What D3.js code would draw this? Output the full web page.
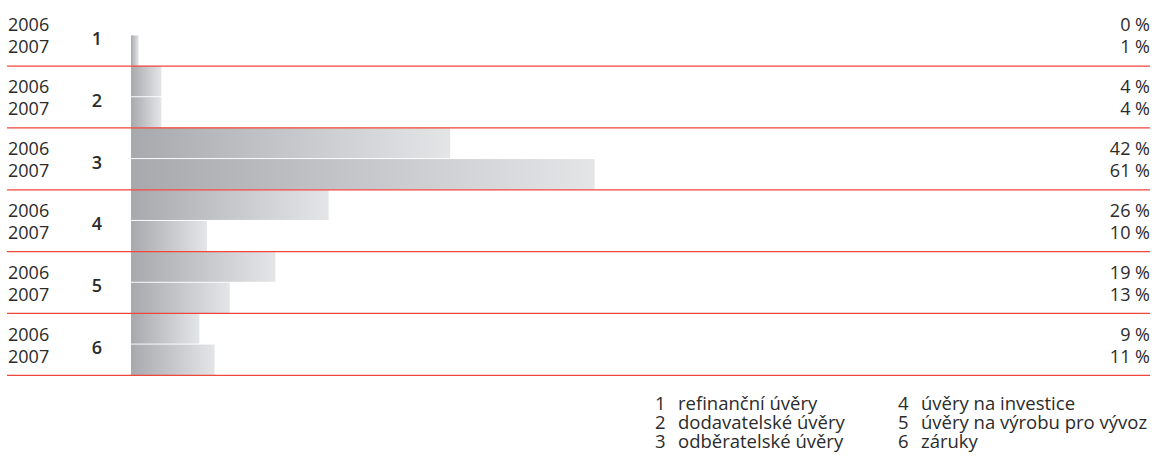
<!DOCTYPE html>
<html>
<head>
<meta charset="utf-8">
<script src="https://cdn.jsdelivr.net/npm/d3@7"></script>
<style>
  body { margin: 0; background: #fff; }
  text { font-family: "Open Sans", "Noto Sans", sans-serif; fill: #2b2b2b; }
</style>
</head>
<body>
<div id="chart"></div>
<script>
let width = 1154,
    height = 461;

const groups = ['1', '2', '3', '4', '5', '6'];
const years = ['2006', '2007'];
const share2006 = [0, 4, 42, 26, 19, 9]; // %
const share2007 = [1, 4, 61, 10, 13, 11]; // %
const legendLabels = ['refinanční úvěry', 'dodavatelské úvěry', 'odběratelské úvěry',
                      'úvěry na investice', 'úvěry na výrobu pro vývoz', 'záruky'];

let rows = [];
groups.forEach(function(g, i){
  rows.push({group: g, year: years[0], value: share2006[i]});
  rows.push({group: g, year: years[1], value: share2007[i]});
});

let svg = d3.select('#chart')
  .append('svg')
  .attr('width', width)
  .attr('height', height);

let grad = svg.append('defs').append('linearGradient')
  .attr('id', 'barGrad')
  .attr('x1', '0%').attr('x2', '100%')
  .attr('y1', '0%').attr('y2', '0%');
grad.append('stop').attr('offset', '0%').attr('stop-color', '#a8a9ad');
grad.append('stop').attr('offset', '100%').attr('stop-color', '#e4e5e7');

let x = d3.scaleLinear().domain([0, 100]).range([131, 891]);

let y = d3.scaleBand().domain(groups).range([4, 375]);

let yInner = d3.scaleBand().domain(years).range([0, y.bandwidth()]).paddingInner(0.03);

// bars
svg.selectAll('.bar')
  .data(rows.filter(function(d){ return d.value > 0; }))
  .enter()
  .append('rect')
  .attr('class', 'bar')
  .attr('x', x(0))
  .attr('y', function(d){ return y(d.group) + yInner(d.year); })
  .attr('width', function(d){ return x(d.value) - x(0); })
  .attr('height', yInner.bandwidth())
  .attr('fill', 'url(#barGrad)');

// red separators
svg.selectAll('.sep')
  .data(groups)
  .enter()
  .append('line')
  .attr('x1', 7).attr('x2', 1150)
  .attr('y1', function(d){ return y(d) + y.bandwidth() + 0.3; })
  .attr('y2', function(d){ return y(d) + y.bandwidth() + 0.3; })
  .attr('stroke', '#f2453b')
  .attr('stroke-width', 1.3);

// year labels and values
svg.selectAll('.year')
  .data(rows)
  .enter()
  .append('text')
  .attr('x', 8)
  .attr('y', function(d){ return y(d.group) + y.bandwidth() / 2 + (d.year === '2006' ? -3.5 : 18.5); })
  .style('font-size', '18px')
  .text(function(d){ return d.year; });

svg.selectAll('.val')
  .data(rows)
  .enter()
  .append('text')
  .attr('x', 1150)
  .attr('text-anchor', 'end')
  .attr('y', function(d){ return y(d.group) + y.bandwidth() / 2 + (d.year === '2006' ? -3.5 : 18.5); })
  .style('font-size', '18px')
  .text(function(d){ return d.value + ' %'; });

svg.selectAll('.grp')
  .data(groups)
  .enter()
  .append('text')
  .attr('x', 97)
  .attr('text-anchor', 'middle')
  .attr('y', function(d){ return y(d) + y.bandwidth() / 2 + 10; })
  .style('font-size', '18px')
  .style('font-weight', 600)
  .text(function(d){ return d; });

// legend
let legend = svg.selectAll('.leg')
  .data(legendLabels)
  .enter()
  .append('g')
  .attr('transform', function(d, i){
    return 'translate(' + (i < 3 ? 655 : 898) + ',' + (410 + (i % 3) * 19) + ')';
  });
legend.append('text')
  .style('font-size', '18.5px')
  .text(function(d, i){ return groups[i]; });
legend.append('text')
  .attr('x', 23)
  .style('font-size', '18.5px')
  .text(function(d){ return d; });
</script>
</body>
</html>
